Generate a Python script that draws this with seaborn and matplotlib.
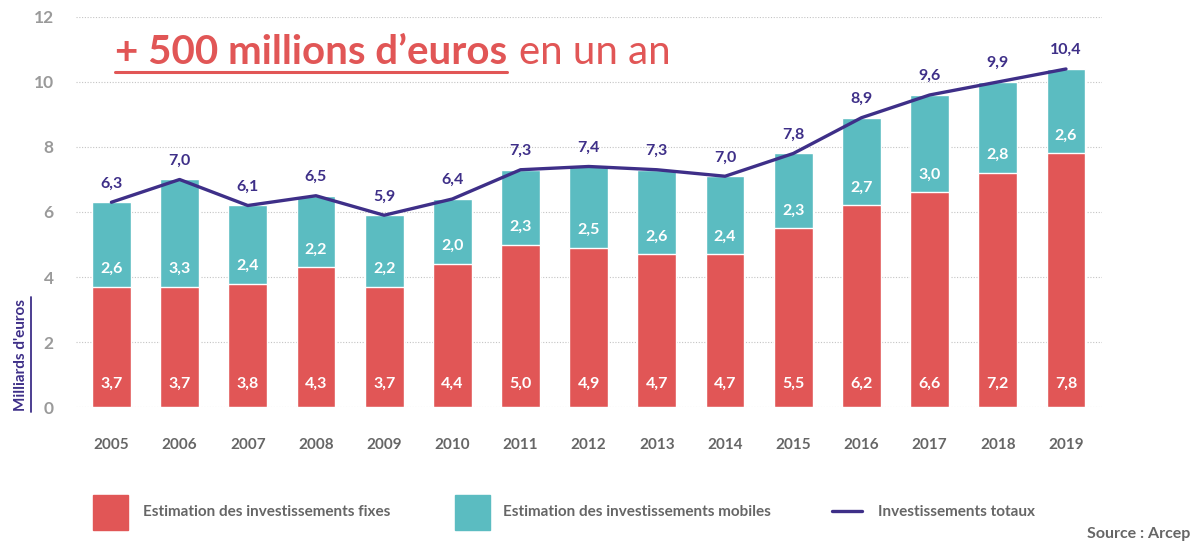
import numpy as np
import pandas as pd
import seaborn as sns
from matplotlib import pyplot as plt
from matplotlib.patches import Rectangle
from matplotlib.lines import Line2D

YEARS = ["2005", "2006", "2007", "2008", "2009", "2010", "2011", "2012",
         "2013", "2014", "2015", "2016", "2017", "2018", "2019"]
FIXES = [3.7, 3.7, 3.8, 4.3, 3.7, 4.4, 5.0, 4.9, 4.7, 4.7, 5.5, 6.2, 6.6, 7.2, 7.8]
MOBILES = [2.6, 3.3, 2.4, 2.2, 2.2, 2.0, 2.3, 2.5, 2.6, 2.4, 2.3, 2.7, 3.0, 2.8, 2.6]
# line drawn through the bar tops, labels as published
TOTAL_LINE = [6.3, 7.0, 6.2, 6.5, 5.9, 6.4, 7.3, 7.4, 7.3, 7.1, 7.8, 8.9, 9.6, 10.0, 10.4]
TOTAL_LABELS = ["6,3", "7,0", "6,1", "6,5", "5,9", "6,4", "7,3", "7,4",
                "7,3", "7,0", "7,8", "8,9", "9,6", "9,9", "10,4"]

RED = "#E15656"
TEAL = "#5BBCC1"
PURPLE = "#3E2F88"
GREY = "#666666"

sns.set_style("white")
plt.rcParams["font.family"] = ["Lato", "DejaVu Sans"]


def fmt(v):
    return f"{v:.1f}".replace(".", ",")


def main():
    df = pd.DataFrame({"year": YEARS, "fixe": FIXES, "mobile": MOBILES})
    df["cumul"] = df["fixe"] + df["mobile"]

    fig = plt.figure(figsize=(11.96, 5.44), dpi=100)
    ax = fig.add_axes([0.0635, 0.2518, 0.858, 0.717])

    sns.barplot(data=df, x="year", y="cumul", color=TEAL, saturation=1,
                width=0.57, ax=ax, zorder=2)
    sns.barplot(data=df, x="year", y="fixe", color=RED, saturation=1,
                width=0.57, ax=ax, zorder=3)
    sns.lineplot(x=np.arange(len(YEARS)), y=TOTAL_LINE, color=PURPLE,
                 linewidth=2.4, ax=ax, zorder=4)

    for i in range(len(YEARS)):
        ax.text(i, 0.72, fmt(FIXES[i]), color="white", ha="center", va="center",
                fontsize=11.5, fontweight="bold", zorder=5)
        ax.text(i, FIXES[i] + 0.55, fmt(MOBILES[i]), color="white", ha="center",
                va="center", fontsize=11.5, fontweight="bold", zorder=5)
        ax.text(i, TOTAL_LINE[i] + 0.58, TOTAL_LABELS[i], color=PURPLE, ha="center",
                va="center", fontsize=11.5, fontweight="bold", zorder=5)

    ax.set_ylim(0, 12)
    ax.set_xlim(-0.52, 14.53)
    ax.set_yticks(range(0, 13, 2))
    ax.grid(axis="y", linestyle=(0, (1, 1.5)), linewidth=0.8, color="#c4c4c4", zorder=0)
    ax.set_axisbelow(True)
    for spine in ax.spines.values():
        spine.set_visible(False)
    ax.tick_params(axis="y", length=0, pad=16, labelsize=12.5, labelcolor="#9a9a9a")
    ax.tick_params(axis="x", length=0, pad=22, labelsize=11, labelcolor=GREY)
    for lab in ax.get_xticklabels() + ax.get_yticklabels():
        lab.set_fontweight("bold")
    ax.set_xlabel(None)
    ax.set_ylabel(None)

    # y axis title, underlined
    fig.text(0.0175, 0.348, "Milliards d'euros", rotation=90, color=PURPLE,
             fontsize=11, fontweight="bold", ha="center", va="center")
    fig.add_artist(Line2D([0.0262, 0.0262], [0.243, 0.454], color=PURPLE, linewidth=1.3))

    # headline
    t1 = fig.text(0.096, 0.904, "+ 500 millions d\u2019euros", color=RED,
                  fontsize=29, fontweight="bold", ha="left", va="center")
    fig.canvas.draw()
    bb = t1.get_window_extent().transformed(fig.transFigure.inverted())
    fig.text(bb.x1 + 0.010, 0.904, "en un an", color=RED, fontsize=29,
             fontweight="normal", ha="left", va="center")
    fig.add_artist(Line2D([bb.x0, bb.x1], [0.868, 0.868], color=RED, linewidth=2.2))

    # legend
    fig.add_artist(Rectangle((0.0778, 0.026), 0.0293, 0.064, color=RED))
    fig.text(0.1195, 0.058, "Estimation des investissements fixes", color=GREY,
             fontsize=11, fontweight="bold", va="center")
    fig.add_artist(Rectangle((0.3805, 0.026), 0.0293, 0.064, color=TEAL))
    fig.text(0.4205, 0.058, "Estimation des investissements mobiles", color=GREY,
             fontsize=11, fontweight="bold", va="center")
    fig.add_artist(Line2D([0.696, 0.721], [0.060, 0.060], color=PURPLE, linewidth=2.4))
    fig.text(0.734, 0.058, "Investissements totaux", color=GREY,
             fontsize=11, fontweight="bold", va="center")
    fig.text(0.995, 0.018, "Source : Arcep", color=GREY, fontsize=11.5,
             fontweight="bold", ha="right", va="center")

    fig.savefig("out.png", dpi=100)


if __name__ == "__main__":
    main()
